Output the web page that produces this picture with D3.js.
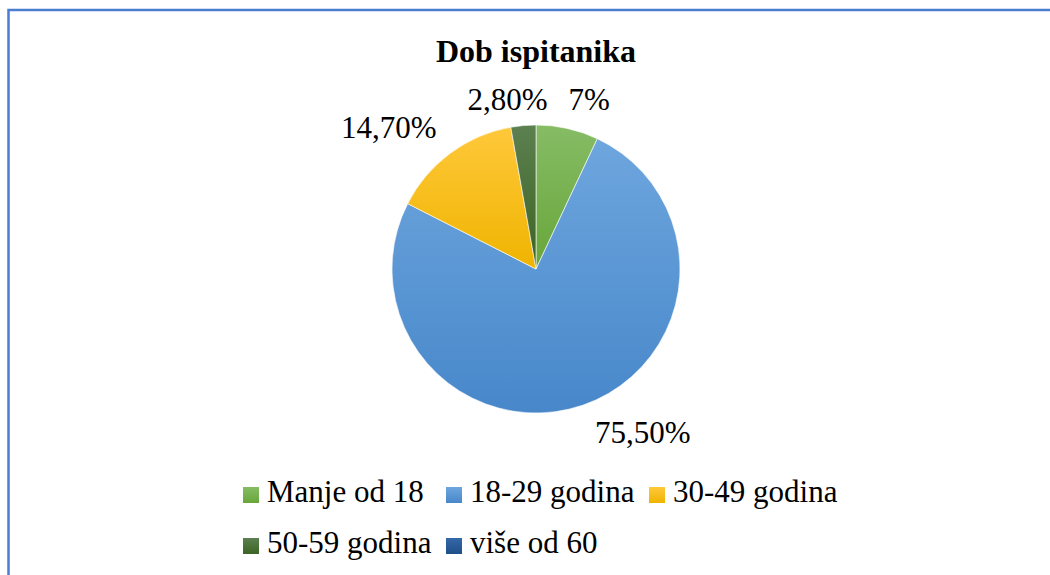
<!DOCTYPE html>
<html>
  <head>
    <meta charset="utf-8">
    <title>Dob ispitanika</title>
    <script src="https://d3js.org/d3.v7.min.js"></script>
    <style>
      body { margin: 0; background: #ffffff; }
      svg text { font-family: "Liberation Serif", "Times New Roman", Times, "DejaVu Serif", serif; fill: #000000; }
      .chart__title { font-size: 32px; font-weight: bold; text-anchor: middle; }
      .slice__label { font-size: 31px; text-anchor: middle; }
      .legend text { font-size: 31px; }
    </style>
  </head>
  <body>
    <svg width="1050" height="575"></svg>
    <script>
      // data
      const categories = ["Manje od 18", "18-29 godina", "30-49 godina", "50-59 godina", "više od 60"];
      const values = [7, 75.5, 14.7, 2.8, 0];
      const labels = ["7%", "75,50%", "14,70%", "2,80%", ""];

      // gradient colours per category: [top, bottom]
      const colors = [
        ["#86bc65", "#68a63a"],
        ["#6ea6de", "#4787ca"],
        ["#ffc83a", "#efb400"],
        ["#5c8050", "#3c6424"],
        ["#3568a8", "#1f4f88"]
      ];

      // Excel "best fit" label nudges
      const labelNudge = [
        {dx: 15, dy: 2},
        {dx: 50, dy: -2},
        {dx: -43, dy: 0},
        {dx: -13, dy: 5},
        {dx: 0, dy: 0}
      ];

      function main(){
        const svg = d3.select("svg");
        const cx = 536, cy = 269, radius = 144;

        // frame
        svg.append("rect")
          .attr("x", 8.5)
          .attr("y", 10)
          .attr("width", 1100)
          .attr("height", 620)
          .attr("fill", "none")
          .attr("stroke", "#4a7cd0")
          .attr("stroke-width", 2.5);

        const defs = svg.append("defs");
        colors.forEach((c, i) => {
          const grad = defs.append("linearGradient")
            .attr("id", "grad" + i)
            .attr("x1", 0).attr("y1", 0)
            .attr("x2", 0).attr("y2", 1);
          grad.append("stop").attr("offset", "0%").attr("stop-color", c[0]);
          grad.append("stop").attr("offset", "100%").attr("stop-color", c[1]);
        });

        svg.append("text")
          .attr("class", "chart__title")
          .attr("x", cx)
          .attr("y", 62)
          .text("Dob ispitanika");

        const data = categories.map((c, i) => ({category: c, value: values[i], label: labels[i], index: i}));

        const pie = d3.pie()
          .sort(null)
          .value(d => d.value);
        const arc = d3.arc()
          .innerRadius(0)
          .outerRadius(radius);
        const labelArc = d3.arc()
          .innerRadius(175)
          .outerRadius(175);

        const arcs = pie(data);

        const g = svg.append("g")
          .attr("transform", `translate(${cx}, ${cy})`);

        g.selectAll("path")
          .data(arcs.filter(d => d.value > 0))
          .enter().append("path")
            .attr("d", arc)
            .attr("fill", d => `url(#grad${d.data.index})`)
            .attr("stroke", "#ffffff")
            .attr("stroke-width", 0.6);

        g.selectAll(".slice__label")
          .data(arcs.filter(d => d.value > 0))
          .enter().append("text")
            .attr("class", "slice__label")
            .attr("x", d => labelArc.centroid(d)[0] + labelNudge[d.data.index].dx)
            .attr("y", d => labelArc.centroid(d)[1] + labelNudge[d.data.index].dy + 10)
            .text(d => d.data.label);

        // legend: 3 columns, wraps to 2 rows
        const legend = svg.append("g")
          .attr("class", "legend")
          .attr("transform", "translate(243, 487)");
        const colWidth = 203, rowHeight = 51, perRow = 3;

        const item = legend.selectAll(".legend__item")
          .data(data)
          .enter().append("g")
            .attr("class", "legend__item")
            .attr("transform", (d, i) => `translate(${(i % perRow) * colWidth}, ${Math.floor(i / perRow) * rowHeight})`);

        item.append("rect")
          .attr("width", 16)
          .attr("height", 16)
          .attr("fill", d => `url(#grad${d.index})`);

        item.append("text")
          .attr("x", 24)
          .attr("y", 15)
          .text(d => d.category);
      }
      main();
    </script>
  </body>
</html>
